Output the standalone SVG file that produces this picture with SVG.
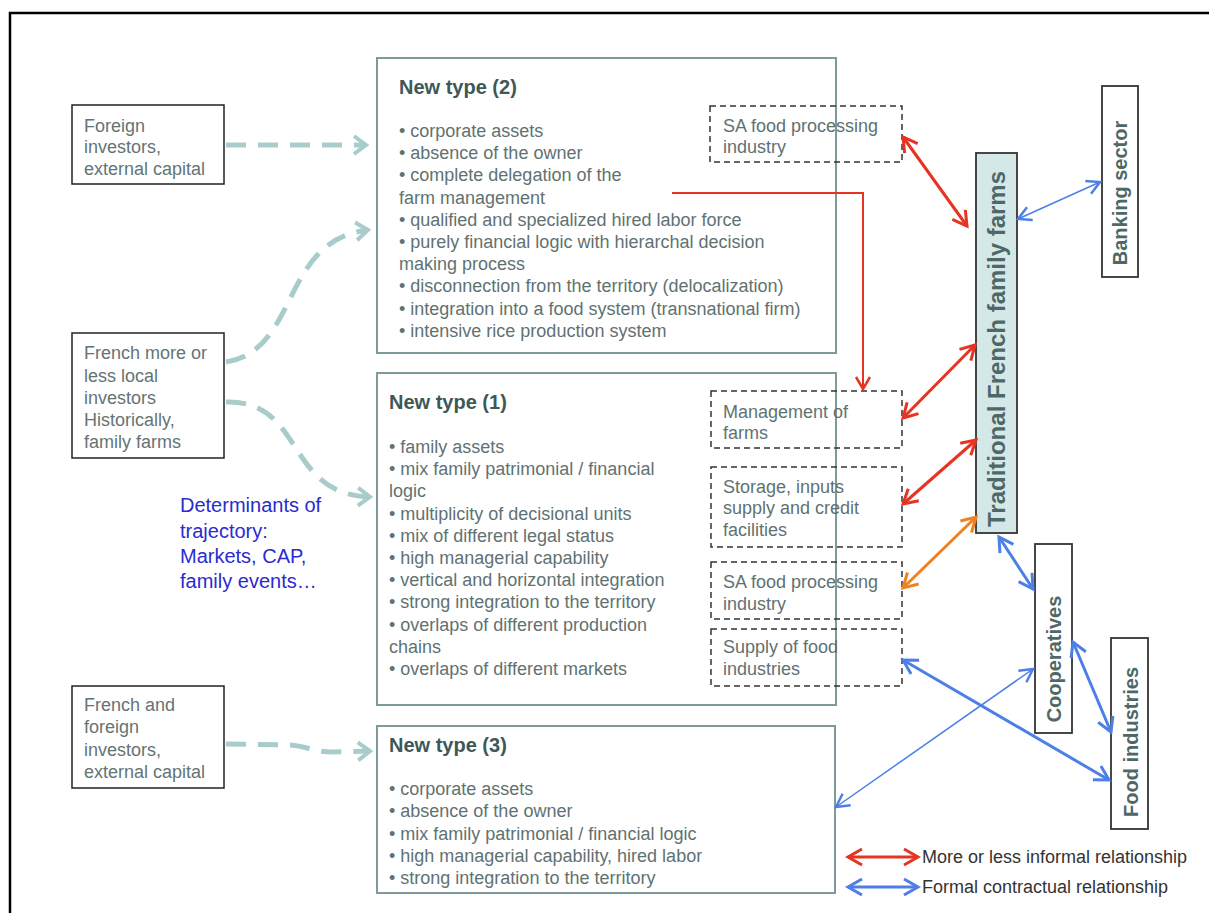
<svg xmlns="http://www.w3.org/2000/svg" width="1209" height="913" viewBox="0 0 1209 913">
<defs>
<style>
.t{font-family:"Liberation Sans",Arial,sans-serif;font-size:18px;fill:#5f7272}
.h{font-family:"Liberation Sans",Arial,sans-serif;font-size:20px;font-weight:bold;fill:#3e5858}
.lb{font-family:"Liberation Sans",Arial,sans-serif;font-size:18px;fill:#647474}
.v{font-family:"Liberation Sans",Arial,sans-serif;font-size:20px;font-weight:bold;fill:#4e6868;text-anchor:middle}
.det{font-family:"Liberation Sans",Arial,sans-serif;font-size:20px;fill:#2b2bcf}
.lg{font-family:"Liberation Sans",Arial,sans-serif;font-size:18px;fill:#333}
.typebox{fill:none;stroke:#7f9a9a;stroke-width:2}
.src{fill:#fff;stroke:#222;stroke-width:1.5}
.dbox{fill:none;stroke:#333;stroke-width:1.5;stroke-dasharray:6 4}
.vbox{fill:#fff;stroke:#333;stroke-width:1.8}
.teal{fill:none;stroke:#a8cccc;stroke-width:5;stroke-dasharray:20 12;marker-end:url(#mTeal)}
.red{fill:none;stroke:#e63322;stroke-width:3;marker-start:url(#mRed);marker-end:url(#mRed)}
.orange{fill:none;stroke:#f0821e;stroke-width:3;marker-start:url(#mOr);marker-end:url(#mOr)}
.blue{fill:none;stroke:#4d7fe6;stroke-width:3;marker-start:url(#mBlue);marker-end:url(#mBlue)}
.bluethin{fill:none;stroke:#4d7fe6;stroke-width:1.5;marker-start:url(#mBlueT);marker-end:url(#mBlueT)}
</style>
<marker id="mTeal" markerUnits="userSpaceOnUse" viewBox="-16 -12 20 24" markerWidth="20" markerHeight="24" refX="0" refY="0" orient="auto">
<path d="M-12,-9 L0,0 L-12,9" fill="none" stroke="#a8cccc" stroke-width="4"/>
</marker>
<marker id="mRed" markerUnits="userSpaceOnUse" viewBox="-18 -12 22 24" markerWidth="22" markerHeight="24" refX="0" refY="0" orient="auto-start-reverse">
<path d="M-14,-8 L0,0 L-14,8" fill="none" stroke="#e63322" stroke-width="3"/>
</marker>
<marker id="mRedT" markerUnits="userSpaceOnUse" viewBox="-18 -12 22 24" markerWidth="22" markerHeight="24" refX="0" refY="0" orient="auto-start-reverse">
<path d="M-12,-7 L0,0 L-12,7" fill="none" stroke="#e63322" stroke-width="2.5"/>
</marker>
<marker id="mOr" markerUnits="userSpaceOnUse" viewBox="-18 -12 22 24" markerWidth="22" markerHeight="24" refX="0" refY="0" orient="auto-start-reverse">
<path d="M-14,-8 L0,0 L-14,8" fill="none" stroke="#f0821e" stroke-width="3"/>
</marker>
<marker id="mBlue" markerUnits="userSpaceOnUse" viewBox="-18 -12 22 24" markerWidth="22" markerHeight="24" refX="0" refY="0" orient="auto-start-reverse">
<path d="M-14,-8 L0,0 L-14,8" fill="none" stroke="#4d7fe6" stroke-width="3"/>
</marker>
<marker id="mBlueT" markerUnits="userSpaceOnUse" viewBox="-18 -12 22 24" markerWidth="22" markerHeight="24" refX="0" refY="0" orient="auto-start-reverse">
<path d="M-13,-7 L0,0 L-13,7" fill="none" stroke="#4d7fe6" stroke-width="2.5"/>
</marker>
</defs>
<rect x="0" y="0" width="1209" height="913" fill="#fff"/>
<rect x="10" y="13" width="1230" height="930" fill="none" stroke="#000" stroke-width="2.5"/>

<g id="src-foreign">
<rect class="src" x="72" y="105" width="152" height="79"/>
<text class="lb" x="84" y="132">Foreign</text>
<text class="lb" x="84" y="153">investors,</text>
<text class="lb" x="84" y="175">external capital</text>
</g>
<g id="src-local">
<rect class="src" x="72" y="333" width="152" height="125"/>
<text class="lb" x="84" y="359">French more or</text>
<text class="lb" x="84" y="382">less local</text>
<text class="lb" x="84" y="404">investors</text>
<text class="lb" x="84" y="426">Historically,</text>
<text class="lb" x="84" y="448">family farms</text>
</g>
<g id="src-mixed">
<rect class="src" x="72" y="686" width="152" height="102"/>
<text class="lb" x="84" y="711">French and</text>
<text class="lb" x="84" y="733">foreign</text>
<text class="lb" x="84" y="756">investors,</text>
<text class="lb" x="84" y="778">external capital</text>
</g>
<g id="determinants">
<text class="det" x="180" y="512">Determinants of</text>
<text class="det" x="180" y="537.5">trajectory:</text>
<text class="det" x="180" y="563">Markets, CAP,</text>
<text class="det" x="180" y="588">family events…</text>
</g>

<g id="type2">
<rect class="typebox" x="377" y="58" width="459" height="295"/>
<text class="h" x="399" y="94">New type (2)</text>
<text class="t" x="399" y="137">• corporate assets</text>
<text class="t" x="399" y="159.2">• absence of the owner</text>
<text class="t" x="399" y="181.4">• complete delegation of the</text>
<text class="t" x="399" y="203.6">farm management</text>
<text class="t" x="399" y="225.8">• qualified and specialized hired labor force</text>
<text class="t" x="399" y="248">• purely financial logic with hierarchal decision</text>
<text class="t" x="399" y="270.2">making process</text>
<text class="t" x="399" y="292.4">• disconnection from the territory (delocalization)</text>
<text class="t" x="399" y="314.6">• integration into a food system (transnational firm)</text>
<text class="t" x="399" y="336.8">• intensive rice production system</text>
</g>
<g id="sa-food-top">
<rect class="dbox" x="710" y="106" width="192" height="56"/>
<text class="t" x="723" y="132">SA food processing</text>
<text class="t" x="723" y="153">industry</text>
</g>

<g id="type1">
<rect class="typebox" x="377" y="373" width="459" height="332"/>
<text class="h" x="389" y="409">New type (1)</text>
<text class="t" x="389" y="453">• family assets</text>
<text class="t" x="389" y="475.2">• mix family patrimonial / financial</text>
<text class="t" x="389" y="497.4">logic</text>
<text class="t" x="389" y="519.6">• multiplicity of decisional units</text>
<text class="t" x="389" y="541.8">• mix of different legal status</text>
<text class="t" x="389" y="564">• high managerial capability</text>
<text class="t" x="389" y="586.2">• vertical and horizontal integration</text>
<text class="t" x="389" y="608.4">• strong integration to the territory</text>
<text class="t" x="389" y="630.6">• overlaps of different production</text>
<text class="t" x="389" y="652.8">chains</text>
<text class="t" x="389" y="675">• overlaps of different markets</text>
</g>
<g id="management">
<rect class="dbox" x="711" y="391" width="191" height="57"/>
<text class="t" x="723" y="418">Management of</text>
<text class="t" x="723" y="439">farms</text>
</g>
<g id="storage">
<rect class="dbox" x="711" y="467" width="191" height="80"/>
<text class="t" x="723" y="493">Storage, inputs</text>
<text class="t" x="723" y="514">supply and credit</text>
<text class="t" x="723" y="536">facilities</text>
</g>
<g id="sa-food-mid">
<rect class="dbox" x="711" y="562" width="191" height="57"/>
<text class="t" x="723" y="588">SA food processing</text>
<text class="t" x="723" y="610">industry</text>
</g>
<g id="supply">
<rect class="dbox" x="711" y="629" width="191" height="57"/>
<text class="t" x="723" y="653">Supply of food</text>
<text class="t" x="723" y="675">industries</text>
</g>

<g id="type3">
<rect class="typebox" x="377" y="726" width="458" height="167"/>
<text class="h" x="389" y="752">New type (3)</text>
<text class="t" x="389" y="795">• corporate assets</text>
<text class="t" x="389" y="817">• absence of the owner</text>
<text class="t" x="389" y="840">• mix family patrimonial / financial logic</text>
<text class="t" x="389" y="862">• high managerial capability, hired labor</text>
<text class="t" x="389" y="884">• strong integration to the territory</text>
</g>

<g id="traditional">
<rect x="976" y="153" width="41" height="380" fill="#d5e8e8" stroke="#333" stroke-width="1.8"/>
<text class="v" style="font-size:24px" transform="translate(1005,349) rotate(-90)">Traditional French family farms</text>
</g>
<g id="banking">
<rect class="vbox" x="1102" y="86" width="36" height="191"/>
<text class="v" transform="translate(1127,193) rotate(-90)">Banking sector</text>
</g>
<g id="cooperatives">
<rect class="vbox" x="1035" y="544" width="37" height="189"/>
<text class="v" transform="translate(1061,659) rotate(-90)">Cooperatives</text>
</g>
<g id="food-industries">
<rect class="vbox" x="1111" y="638" width="37" height="191"/>
<text class="v" transform="translate(1138,742) rotate(-90)">Food industries</text>
</g>

<g id="connectors">
<path class="teal" d="M226,145 L366,145"/>
<path class="teal" d="M226,362 C300,350 280,240 368,230"/>
<path class="teal" d="M226,402 C305,400 285,495 370,497"/>
<path class="teal" d="M226,744 L290,745 C308,746 312,752 332,752 L370,751"/>
<path d="M672,193 H863 V389" fill="none" stroke="#e63322" stroke-width="2" marker-end="url(#mRedT)"/>
<path class="red" d="M903,137 L967,226"/>
<path class="red" d="M903,418 L975,345"/>
<path class="red" d="M903,504 L976,440"/>
<path class="orange" d="M903,588 L976,517"/>
<path class="bluethin" d="M1018,219 L1100,182"/>
<path class="blue" d="M999,537 L1033,589"/>
<path class="blue" d="M903,660 L1109,780"/>
<path class="bluethin" d="M1033,669 L836,807"/>
<path class="blue" d="M1073,642 L1111,732"/>
</g>

<g id="legend">
<path class="red" d="M848,857 L918,857"/>
<text class="lg" x="922" y="863">More or less informal relationship</text>
<path class="blue" d="M848,887 L918,887"/>
<text class="lg" x="922" y="893">Formal contractual relationship</text>
</g>
</svg>
